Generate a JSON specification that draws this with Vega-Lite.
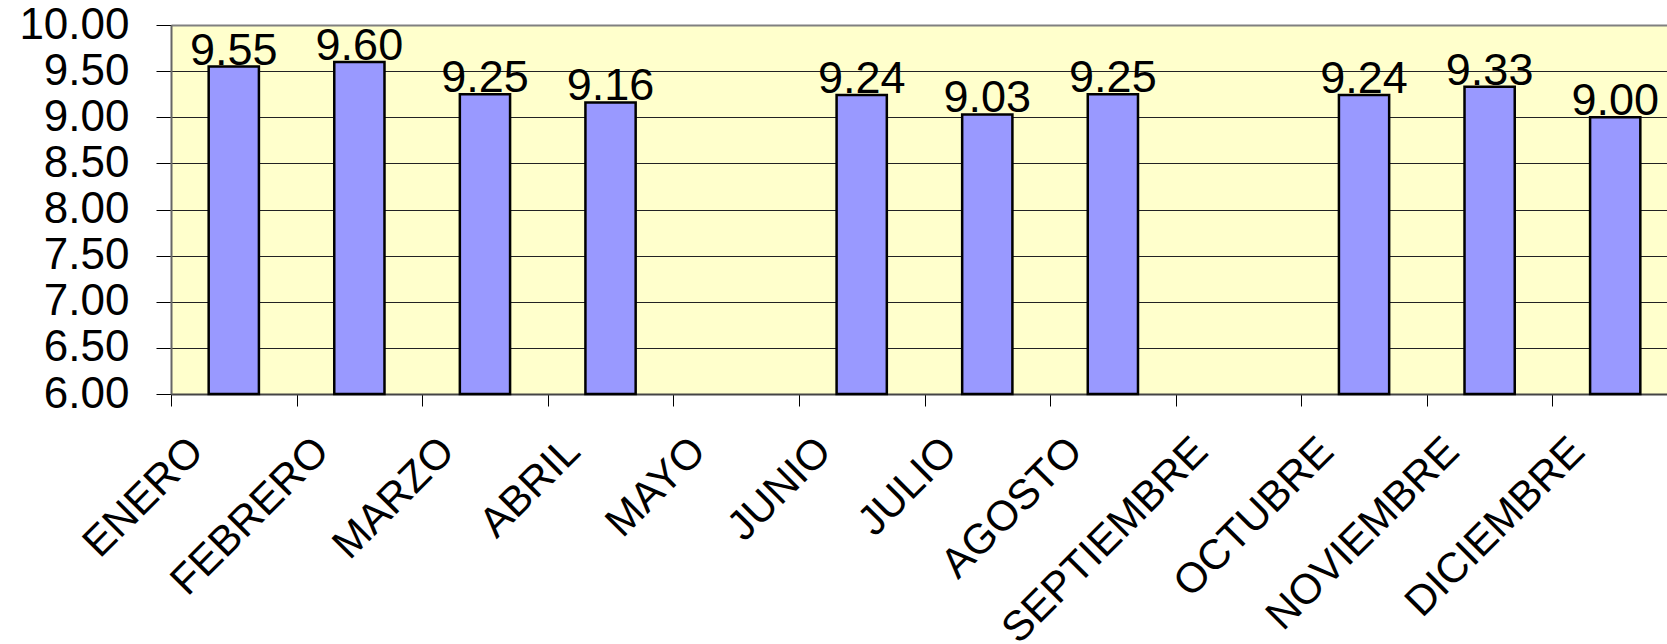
{
  "$schema": "https://vega.github.io/schema/vega-lite/v6.json",
  "width": 1496,
  "height": 369,
  "autosize": {"type": "none"},
  "padding": {"left": 171, "top": 25, "right": 0, "bottom": 250},
  "background": "white",
  "config": {
    "view": {"fill": "#FFFFCC", "stroke": null},
    "font": "Liberation Sans"
  },
  "data": {
    "values": [
      {"mes": "ENERO", "promedio": 9.55},
      {"mes": "FEBRERO", "promedio": 9.60},
      {"mes": "MARZO", "promedio": 9.25},
      {"mes": "ABRIL", "promedio": 9.16},
      {"mes": "JUNIO", "promedio": 9.24},
      {"mes": "JULIO", "promedio": 9.03},
      {"mes": "AGOSTO", "promedio": 9.25},
      {"mes": "OCTUBRE", "promedio": 9.24},
      {"mes": "NOVIEMBRE", "promedio": 9.33},
      {"mes": "DICIEMBRE", "promedio": 9.00}
    ]
  },
  "encoding": {
    "x": {
      "field": "mes",
      "type": "nominal",
      "sort": null,
      "scale": {
        "domain": ["ENERO", "FEBRERO", "MARZO", "ABRIL", "MAYO", "JUNIO", "JULIO", "AGOSTO", "SEPTIEMBRE", "OCTUBRE", "NOVIEMBRE", "DICIEMBRE"],
        "range": [0, 1507],
        "paddingInner": 0,
        "paddingOuter": 0
      },
      "axis": {
        "title": null,
        "tickBand": "extent",
        "labelAngle": -45,
        "labelAlign": "right",
        "labelBaseline": "middle",
        "labelFontSize": 42,
        "labelColor": "#000000",
        "labelOffset": -38,
        "labelPadding": 38,
        "labelLimit": 0,
        "ticks": true,
        "tickSize": 12,
        "tickColor": "#000000",
        "tickWidth": 1,
        "domainColor": "#444444",
        "domainWidth": 2,
        "grid": false
      }
    }
  },
  "layer": [
    {
      "mark": {"type": "bar", "fill": "#9999FF", "stroke": "#000000", "strokeWidth": 2.5, "width": {"band": 0.4}},
      "encoding": {
        "y": {
          "field": "promedio",
          "type": "quantitative",
          "scale": {"domain": [6, 10], "zero": false, "nice": false},
          "axis": {
            "title": null,
            "values": [6, 6.5, 7, 7.5, 8, 8.5, 9, 9.5, 10],
            "format": ".2f",
            "labelFontSize": 44,
            "labelColor": "#000000",
            "labelPadding": 27,
            "tickSize": 15,
            "tickColor": "#000000",
            "tickWidth": 1,
            "domainColor": "#666666",
            "domainWidth": 2,
            "grid": true,
            "gridColor": {"condition": {"test": "datum.value === 10", "value": "#808080"}, "value": "#222222"},
            "gridWidth": {"condition": {"test": "datum.value === 10", "value": 2}, "value": 1},
            "zindex": 0
          }
        },
        "y2": {"datum": 6}
      }
    },
    {
      "mark": {"type": "text", "fontSize": 45, "dy": -16, "baseline": "middle", "align": "center", "color": "#000000"},
      "encoding": {
        "y": {"field": "promedio", "type": "quantitative"},
        "text": {"field": "promedio", "type": "quantitative", "format": ".2f"}
      }
    }
  ]
}
